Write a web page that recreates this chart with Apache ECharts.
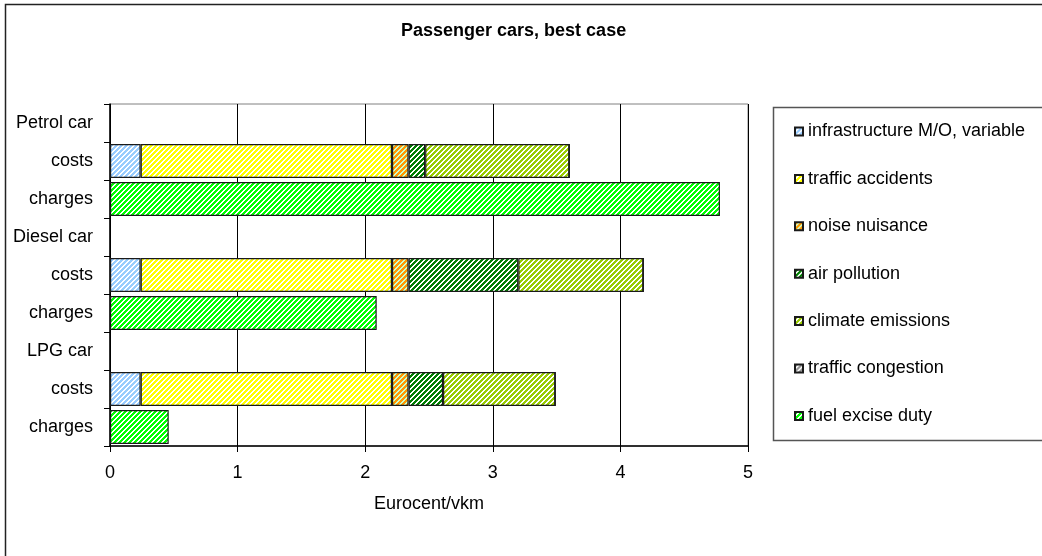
<!DOCTYPE html>
<html>
<head>
<meta charset="utf-8">
<script src="https://cdn.jsdelivr.net/npm/echarts@6/dist/echarts.min.js"></script>
<style>
  html, body { margin: 0; padding: 0; background: #fff; }
  #chart { width: 1042px; height: 556px; }
</style>
</head>
<body>
<div id="chart"></div>
<script>
// Row labels on the vertical axis (top to bottom)
const categories = ['Petrol car', 'costs', 'charges', 'Diesel car', 'costs', 'charges', 'LPG car', 'costs', 'charges'];

// External costs per car type (Petrol, Diesel, LPG), Eurocent/vkm
const infrastructure = [0.24, 0.24, 0.24];
const accidents      = [1.97, 1.97, 1.97];
const noise          = [0.13, 0.13, 0.13];
const airPollution   = [0.13, 0.86, 0.27];
const climate        = [1.13, 0.98, 0.88];
const congestion     = [0, 0, 0];

// Charges per car type (Petrol, Diesel, LPG), Eurocent/vkm
const fuelExcise     = [4.78, 2.09, 0.46];

const FONT = '"Liberation Sans", Arial, sans-serif';

// Diagonal hatch fill: colour stripes alternating with a second colour
function hatch(color, other) {
  const n = 5;
  const c = document.createElement('canvas');
  c.width = n; c.height = n;
  const ctx = c.getContext('2d');
  for (let y = 0; y < n; y++) {
    for (let x = 0; x < n; x++) {
      ctx.fillStyle = ((x + y) % n) < 3 ? color : (other || '#ffffff');
      ctx.fillRect(x, y, 1, 1);
    }
  }
  return { image: c, repeat: 'repeat' };
}

// Place per-car values on the "costs" or "charges" rows
function rows(values, offset) {
  const out = categories.map(() => '-');
  values.forEach((v, i) => { out[i * 3 + offset] = v; });
  return out;
}

const seriesDefs = [
  { name: 'infrastructure M/O, variable', values: infrastructure, row: 1, fill: hatch('#99ccff') },
  { name: 'traffic accidents', values: accidents, row: 1, fill: hatch('#ffff00') },
  { name: 'noise nuisance', values: noise, row: 1, fill: hatch('#ff9900', '#ccffcc') },
  { name: 'air pollution', values: airPollution, row: 1, fill: hatch('#008000') },
  { name: 'climate emissions', values: climate, row: 1, fill: hatch('#99cc00') },
  { name: 'traffic congestion', values: congestion, row: 1, fill: hatch('#969696') },
  { name: 'fuel excise duty', values: fuelExcise, row: 2, fill: hatch('#00ff00') }
];

const chart = echarts.init(document.getElementById('chart'), null, { renderer: 'canvas' });

chart.setOption({
  animation: false,
  backgroundColor: '#ffffff',
  textStyle: { fontFamily: FONT },
  title: {
    text: 'Passenger cars, best case',
    left: 401,
    top: 22,
    padding: 0,
    textStyle: { fontFamily: FONT, fontSize: 18, fontWeight: 'bold', color: '#000' }
  },
  graphic: [
    {
      type: 'rect', silent: true, z: -1,
      shape: { x: 5.5, y: 4.5, width: 1100, height: 620 },
      style: { fill: 'none', stroke: '#222', lineWidth: 1.5 }
    },
    {
      type: 'rect', silent: true, z: -1,
      shape: { x: 773.5, y: 107.5, width: 320, height: 333 },
      style: { fill: '#fff', stroke: '#555', lineWidth: 1.5 }
    }
  ],
  legend: {
    orient: 'vertical',
    left: 794,
    top: 122.5,
    padding: 0,
    itemWidth: 8,
    itemHeight: 8,
    itemGap: 29.4,
    icon: 'rect',
    selectedMode: false,
    textStyle: { fontFamily: FONT, fontSize: 18, color: '#000', lineHeight: 18 },
    data: seriesDefs.map(s => s.name)
  },
  grid: {
    left: 110,
    top: 104,
    right: 294,
    bottom: 110,
    show: true,
    borderColor: '#808080',
    borderWidth: 1
  },
  xAxis: {
    type: 'value',
    min: 0,
    max: 5,
    interval: 1,
    name: 'Eurocent/vkm',
    nameLocation: 'middle',
    nameGap: 49,
    nameTextStyle: { fontFamily: FONT, fontSize: 18, color: '#000' },
    axisLine: { show: true, lineStyle: { color: '#000', width: 1.5 } },
    axisTick: { show: true, length: 6, lineStyle: { color: '#000' } },
    axisLabel: { fontFamily: FONT, fontSize: 18, color: '#000', margin: 18 },
    splitLine: { show: true, lineStyle: { color: '#000', width: 1 } }
  },
  yAxis: {
    type: 'category',
    inverse: true,
    data: categories,
    axisLine: { show: true, lineStyle: { color: '#000', width: 1.5 } },
    axisTick: { show: true, length: 6, alignWithLabel: false, lineStyle: { color: '#000' } },
    axisLabel: { fontFamily: FONT, fontSize: 18, color: '#000', margin: 17 },
    splitLine: { show: false }
  },
  series: seriesDefs.map(s => ({
    name: s.name,
    type: 'bar',
    stack: 'total',
    barWidth: 34,
    data: rows(s.values, s.row),
    itemStyle: { color: s.fill, borderColor: '#1a1a1a', borderWidth: 1.2 },
    emphasis: { disabled: true }
  }))
});
</script>
</body>
</html>
